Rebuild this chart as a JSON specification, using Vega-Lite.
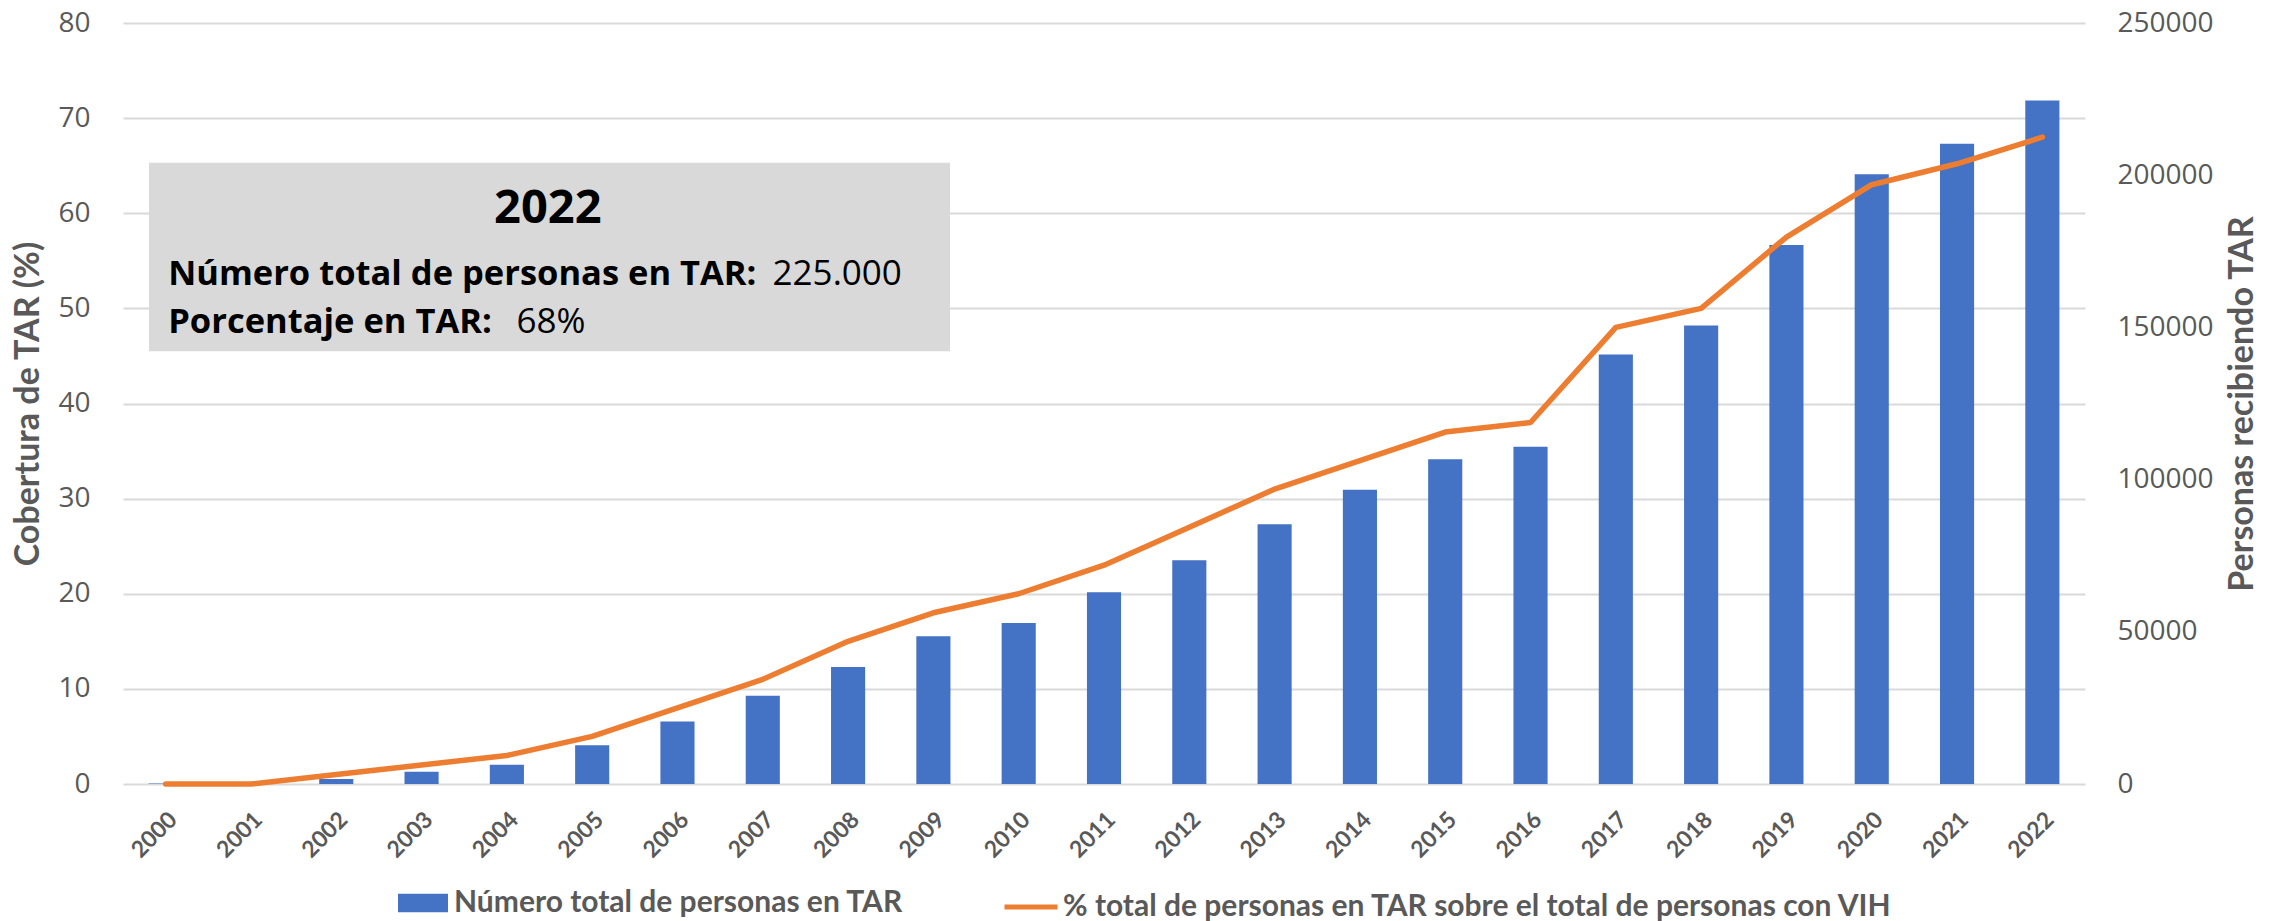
{
  "$schema": "https://vega.github.io/schema/vega-lite/v6.json",
  "width": 1962,
  "height": 761,
  "autosize": {"type": "none"},
  "padding": {"left": 123, "top": 23, "right": 200, "bottom": 137},
  "background": "white",
  "config": {"view": {"stroke": null}, "font": "Lato"},
  "data": {
    "values": [
      {"year": "2000", "personas": 200, "pct": 0},
      {"year": "2001", "personas": 400, "pct": 0},
      {"year": "2002", "personas": 1650, "pct": 1},
      {"year": "2003", "personas": 4050, "pct": 2},
      {"year": "2004", "personas": 6350, "pct": 3},
      {"year": "2005", "personas": 12700, "pct": 5},
      {"year": "2006", "personas": 20500, "pct": 8},
      {"year": "2007", "personas": 29000, "pct": 11},
      {"year": "2008", "personas": 38400, "pct": 15},
      {"year": "2009", "personas": 48500, "pct": 18},
      {"year": "2010", "personas": 52900, "pct": 20},
      {"year": "2011", "personas": 63000, "pct": 23},
      {"year": "2012", "personas": 73500, "pct": 27},
      {"year": "2013", "personas": 85300, "pct": 31},
      {"year": "2014", "personas": 96700, "pct": 34},
      {"year": "2015", "personas": 106700, "pct": 37},
      {"year": "2016", "personas": 110800, "pct": 38},
      {"year": "2017", "personas": 141100, "pct": 48},
      {"year": "2018", "personas": 150600, "pct": 50},
      {"year": "2019", "personas": 177100, "pct": 57.5},
      {"year": "2020", "personas": 200300, "pct": 63},
      {"year": "2021", "personas": 210300, "pct": 65.2},
      {"year": "2022", "personas": 224500, "pct": 68}
    ]
  },
  "layer": [
    {
      "layer": [
        {
          "mark": {"type": "bar"},
          "encoding": {
            "x": {
              "field": "year",
              "type": "ordinal",
              "scale": {"paddingInner": 0.6, "paddingOuter": 0.3},
              "axis": {
                "title": null,
                "labelAngle": -45,
                "labelFont": "Lato",
                "labelFontWeight": "bold",
                "labelFontSize": 23,
                "labelColor": "#595959",
                "ticks": false,
                "domain": false,
                "labelPadding": 24
              }
            },
            "y": {
              "field": "personas",
              "type": "quantitative",
              "scale": {"domain": [0, 250000], "nice": false},
              "axis": {
                "orient": "right",
                "values": [0, 50000, 100000, 150000, 200000, 250000],
                "format": "d",
                "grid": false,
                "ticks": false,
                "domain": false,
                "labelFont": "Open Sans",
                "labelFontSize": 28,
                "labelColor": "#595959",
                "labelPadding": 32,
                "title": "Personas recibiendo TAR",
                "titleAngle": -90,
                "titleBaseline": "top",
                "titleFont": "Lato",
                "titleFontSize": 34,
                "titleFontWeight": "bold",
                "titleColor": "#595959",
                "titlePadding": 12
              }
            },
            "fill": {
              "datum": "Número total de personas en TAR",
              "type": "nominal",
              "scale": {"range": ["#4472C4"]},
              "legend": {
                "orient": "none",
                "legendX": 275,
                "legendY": 855,
                "title": null,
                "padding": 0,
                "symbolType": "M-1,-0.367H1V0.367H-1Z",
                "symbolSize": 2500,
                "symbolStrokeWidth": 0,
                "labelFont": "Lato",
                "labelFontWeight": "bold",
                "labelFontSize": 30,
                "labelColor": "#595959",
                "labelOffset": 6,
                "labelLimit": 1000
              }
            }
          }
        },
        {
          "mark": {"type": "line", "strokeWidth": 5.5, "strokeCap": "round", "strokeJoin": "round"},
          "encoding": {
            "x": {"field": "year", "type": "ordinal"},
            "y": {
              "field": "pct",
              "type": "quantitative",
              "scale": {"domain": [0, 80], "nice": false},
              "axis": {
                "orient": "left",
                "values": [0, 10, 20, 30, 40, 50, 60, 70, 80],
                "grid": true,
                "gridColor": "#D9D9D9",
                "gridWidth": 2,
                "ticks": false,
                "domain": false,
                "labelFont": "Open Sans",
                "labelFontSize": 28,
                "labelColor": "#595959",
                "labelPadding": 33,
                "title": "Cobertura de TAR (%)",
                "titleFont": "Lato",
                "titleFontSize": 34,
                "titleFontWeight": "bold",
                "titleColor": "#595959",
                "titlePadding": 12
              }
            },
            "stroke": {
              "datum": "% total de personas en TAR sobre el total de personas con VIH",
              "type": "nominal",
              "scale": {"range": ["#ED7D31"]},
              "legend": {
                "orient": "none",
                "legendX": 879,
                "legendY": 855,
                "title": null,
                "padding": 0,
                "symbolType": "stroke",
                "symbolSize": 2809,
                "symbolStrokeWidth": 5,
                "labelFont": "Lato",
                "labelFontWeight": "bold",
                "labelFontSize": 30,
                "labelColor": "#595959",
                "labelOffset": 3,
                "labelLimit": 1200
              }
            }
          }
        }
      ],
      "resolve": {"scale": {"y": "independent"}}
    },
    {
      "data": {"values": [{"anio": "2022", "l2a": "Número total de personas en TAR:", "l2b": "225.000", "l3a": "Porcentaje en TAR:", "l3b": "68%"}]},
      "encoding": {
        "x": {"type": "quantitative", "scale": {"domain": [0, 23], "nice": false, "zero": false}, "axis": null},
        "y": {"type": "quantitative", "scale": {"domain": [0, 80], "nice": false, "zero": false}, "axis": null}
      },
      "layer": [
        {
          "mark": {"type": "rect", "fill": "#D9D9D9"},
          "encoding": {
            "x": {"datum": 0.305, "type": "quantitative"},
            "x2": {"datum": 9.695},
            "y": {"datum": 45.5, "type": "quantitative"},
            "y2": {"datum": 65.3}
          }
        },
        {
          "mark": {"type": "text", "align": "center", "baseline": "alphabetic", "font": "Open Sans", "fontWeight": "bold", "fontSize": 47, "color": "#000000"},
          "encoding": {
            "x": {"datum": 4.98, "type": "quantitative"},
            "y": {"datum": 58.94, "type": "quantitative"},
            "text": {"field": "anio"}
          }
        },
        {
          "mark": {"type": "text", "align": "left", "baseline": "alphabetic", "font": "Open Sans", "fontWeight": "bold", "fontSize": 34.5, "color": "#000000"},
          "encoding": {
            "x": {"datum": 0.53, "type": "quantitative"},
            "y": {"datum": 52.46, "type": "quantitative"},
            "text": {"field": "l2a"}
          }
        },
        {
          "mark": {"type": "text", "align": "left", "baseline": "alphabetic", "font": "Open Sans", "fontSize": 35, "color": "#000000"},
          "encoding": {
            "x": {"datum": 7.615, "type": "quantitative"},
            "y": {"datum": 52.46, "type": "quantitative"},
            "text": {"field": "l2b"}
          }
        },
        {
          "mark": {"type": "text", "align": "left", "baseline": "alphabetic", "font": "Open Sans", "fontWeight": "bold", "fontSize": 34.5, "color": "#000000"},
          "encoding": {
            "x": {"datum": 0.53, "type": "quantitative"},
            "y": {"datum": 47.38, "type": "quantitative"},
            "text": {"field": "l3a"}
          }
        },
        {
          "mark": {"type": "text", "align": "left", "baseline": "alphabetic", "font": "Open Sans", "fontSize": 35, "color": "#000000"},
          "encoding": {
            "x": {"datum": 4.614, "type": "quantitative"},
            "y": {"datum": 47.38, "type": "quantitative"},
            "text": {"field": "l3b"}
          }
        }
      ]
    }
  ],
  "resolve": {"scale": {"x": "independent", "y": "independent"}}
}
